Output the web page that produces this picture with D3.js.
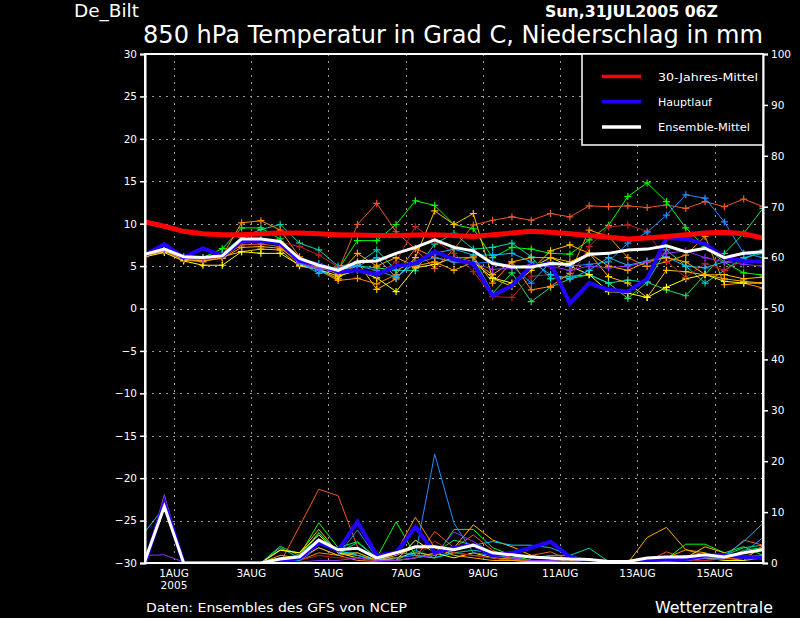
<!DOCTYPE html>
<html><head><meta charset="utf-8">
<script src="https://cdn.jsdelivr.net/npm/d3@7"></script>
<style>body{margin:0;background:#000}svg{display:block;background:#000}</style>
</head><body><svg id="c" width="800" height="618"></svg>
<script>
// ---- DATA ----
// time steps: hours after 31JUL2005 06Z, every 12 h
const hours = d3.range(0, 385, 12);
const xTickHours = [18, 66, 114, 162, 210, 258, 306, 354];
const xTickLabels = ["1AUG", "3AUG", "5AUG", "7AUG", "9AUG", "11AUG", "13AUG", "15AUG"];
const yearLabel = "2005";
const tempTicks = d3.range(-30, 31, 5);
const precTicks = d3.range(0, 101, 10);

const climateMean = [10.2, 9.7, 9.1, 8.8, 8.7, 8.7, 8.8, 8.9, 8.9, 8.8, 8.7, 8.65, 8.6, 8.6, 8.65, 8.7, 8.6, 8.5, 8.7, 8.9, 9.1, 9.0, 8.8, 8.6, 8.4, 8.2, 8.3, 8.5, 8.7, 8.9, 9.0, 8.8, 8.3];
const mainRunTemp = [6.3, 7.6, 6.0, 7.1, 6.2, 8.0, 8.0, 7.7, 5.6, 5.2, 4.3, 4.5, 4.0, 5.0, 5.3, 6.7, 5.8, 5.3, 1.5, 2.7, 5.0, 5.3, 0.6, 3.0, 2.2, 2.0, 3.5, 8.3, 8.2, 7.6, 6.0, 5.6, 5.5];
const ensMeanTemp = [6.4, 7.0, 6.1, 6.0, 6.2, 8.2, 8.2, 7.9, 5.9, 5.1, 4.5, 5.5, 5.6, 6.5, 7.2, 8.1, 7.2, 6.8, 5.3, 4.9, 4.9, 5.3, 5.2, 6.4, 6.5, 6.9, 7.0, 7.4, 6.7, 7.1, 6.0, 6.5, 6.7];
const mainRunPrec = [0, 12.0, 0, 0, 0, 0, 0, 0.3, 1.0, 4.0, 2.5, 8.1, 1.5, 2.0, 7.1, 2.0, 3.0, 3.5, 1.5, 2.0, 3.0, 4.2, 1.2, 0.3, 0.2, 0.2, 0.5, 0.8, 0.8, 1.5, 1.5, 1.2, 1.0];
const ensMeanPrec = [0.5, 11.1, 0, 0, 0, 0, 0, 0.8, 1.2, 4.5, 2.6, 2.9, 1.0, 2.0, 3.2, 3.2, 2.6, 3.5, 2.0, 1.6, 1.2, 1.0, 0.8, 0.7, 0.3, 0.3, 1.0, 1.2, 1.2, 1.6, 1.2, 2.0, 2.6];

const memberColors = ["#f05828", "#00ff00", "#22dd66", "#00d8a8", "#ff8c00", "#ffc000", "#ffff00", "#c02020", "#1e90ff", "#00c0ff", "#ffa800", "#9030ff"];
const memberTemp = [
  [6.2, 6.7, 5.8, 5.6, 6.0, 7.5, 7.6, 7.3, 5.2, 4.8, 4.4, 9.9, 12.4, 9.05, 7.0, 4.7, 7.0, 9.85, 10.4, 10.8, 10.4, 11.2, 10.8, 12.1, 12.0, 12.1, 11.9, 12.2, 11.8, 12.6, 12.0, 12.9, 12.0],
  [6.3, 7.0, 6.0, 6.0, 7.05, 9.5, 9.5, 8.2, 5.8, 5.3, 4.6, 8.0, 8.0, 9.9, 12.7, 12.15, 9.9, 9.4, 6.0, 7.2, 7.0, 6.5, 6.4, 8.1, 9.8, 13.2, 14.8, 12.6, 9.5, 7.3, 5.45, 4.2, 3.95],
  [6.2, 6.8, 5.9, 5.8, 6.3, 8.0, 8.1, 7.8, 5.6, 5.0, 4.2, 5.0, 4.8, 4.5, 5.5, 6.5, 6.0, 6.0, 1.8, 4.2, 0.8, 2.5, 3.5, 4.0, 3.0, 1.2, 3.1, 2.2, 1.5, 4.0, 6.5, 8.85, 11.8],
  [6.4, 6.9, 6.0, 5.9, 6.5, 8.4, 9.3, 9.9, 7.7, 6.9, 5.0, 5.3, 6.9, 4.5, 4.45, 7.6, 8.85, 7.0, 7.2, 7.7, 6.1, 3.5, 3.8, 3.95, 3.0, 3.35, 3.1, 6.9, 5.0, 3.0, 4.5, 6.0, 6.5],
  [6.2, 6.9, 5.7, 5.5, 6.2, 10.1, 10.35, 9.25, 6.1, 4.5, 3.3, 3.55, 2.9, 4.0, 7.1, 6.0, 5.5, 6.1, 3.0, 5.5, 2.2, 2.6, 4.15, 9.25, 8.5, 6.0, 4.95, 5.5, 6.3, 8.5, 2.8, 3.0, 2.4],
  [6.3, 6.8, 5.9, 5.8, 6.1, 6.7, 7.0, 6.9, 5.0, 4.6, 3.5, 5.5, 2.25, 3.5, 6.0, 11.5, 9.9, 11.2, 3.55, 2.6, 4.5, 6.8, 7.5, 6.5, 3.75, 3.0, 1.3, 4.5, 4.35, 3.95, 4.0, 3.5, 3.7],
  [6.1, 6.6, 5.6, 5.1, 5.1, 6.7, 6.5, 6.5, 5.1, 4.6, 3.8, 4.5, 3.6, 2.0, 4.8, 5.2, 6.0, 5.5, 3.6, 3.0, 4.8, 6.0, 5.0, 4.0, 2.0, 1.8, 1.3, 2.5, 3.5, 4.0, 3.2, 3.0, 3.0],
  [6.2, 6.8, 5.8, 5.7, 6.1, 7.8, 7.9, 7.8, 7.3, 6.3, 4.9, 4.5, 3.95, 5.5, 9.65, 8.0, 6.5, 4.35, 1.4, 1.3, 3.8, 4.0, 3.55, 7.3, 9.6, 9.85, 9.1, 5.6, 3.65, 5.3, 4.5, 5.7, 5.5],
  [6.3, 6.9, 6.0, 5.9, 6.2, 7.9, 8.0, 7.7, 5.3, 4.5, 4.8, 5.0, 4.5, 3.7, 5.3, 6.0, 5.5, 5.3, 5.5, 5.0, 3.0, 5.5, 5.0, 5.2, 5.5, 7.7, 9.0, 11.0, 13.4, 13.0, 10.2, 6.5, 6.0],
  [6.4, 7.0, 6.1, 6.0, 6.3, 8.0, 8.1, 7.9, 5.4, 4.15, 4.5, 5.0, 6.0, 3.7, 5.5, 6.5, 7.0, 6.3, 6.3, 6.5, 5.5, 4.0, 3.5, 4.5, 6.0, 5.1, 5.6, 6.1, 5.0, 4.8, 5.5, 5.8, 6.9],
  [6.2, 6.8, 5.8, 5.6, 5.9, 7.2, 7.3, 7.1, 5.5, 5.0, 4.0, 6.5, 5.0, 6.0, 5.0, 5.5, 4.5, 5.5, 4.0, 5.5, 6.0, 6.0, 5.5, 6.5, 5.0, 4.5, 5.5, 6.0, 5.5, 4.0, 3.5, 3.2, 3.0],
  [6.3, 6.9, 5.9, 5.8, 6.2, 7.8, 7.9, 7.6, 5.4, 4.7, 4.3, 4.6, 4.2, 5.0, 5.5, 6.5, 5.9, 5.4, 4.6, 4.8, 5.2, 5.0, 4.5, 5.0, 4.8, 5.0, 5.5, 6.5, 6.8, 6.0, 5.5, 5.2, 5.0]
];
const memberPrec = [
  [0, 13.4, 0, 0, 0, 0, 0, 0, 7.2, 14.5, 13.2, 3.2, 0.5, 0.5, 1.0, 6.2, 3.0, 5.5, 2.5, 1.0, 1.5, 2.2, 0.5, 0.2, 0, 0, 0.3, 2.2, 0.8, 0.5, 1.0, 4.5, 3.5],
  [0.5, 12.0, 0, 0, 0, 0, 0, 1.0, 1.5, 7.9, 3.0, 4.2, 1.0, 8.1, 1.5, 1.0, 6.6, 6.6, 3.0, 1.5, 0.5, 0.5, 0.3, 0, 0, 0, 0.5, 0.8, 3.7, 3.7, 2.0, 3.2, 1.5],
  [0, 11.5, 0, 0, 0, 0, 0, 3.3, 1.5, 6.0, 2.0, 2.0, 0.5, 0.5, 1.0, 2.0, 4.5, 3.5, 1.5, 1.0, 0.5, 0.3, 0, 0, 0, 0, 0.5, 1.0, 1.5, 1.0, 0.8, 2.5, 3.0],
  [0, 12.5, 0, 0, 0, 0, 0, 3.0, 1.0, 5.9, 2.0, 4.0, 1.0, 0.5, 2.5, 1.0, 2.0, 2.5, 2.0, 1.5, 1.0, 1.5, 1.5, 2.9, 0.3, 0, 0.3, 0.5, 0.8, 1.0, 1.5, 3.0, 3.5],
  [0, 12.8, 0, 0, 0, 0, 0, 1.0, 0.5, 2.0, 1.5, 0.5, 0.3, 2.0, 9.0, 3.0, 2.0, 1.5, 1.0, 0.8, 0.5, 0.3, 0.2, 0, 0, 0, 0.5, 1.0, 2.6, 1.5, 1.0, 0.5, 3.5],
  [0, 12.5, 0, 0, 0, 0, 0, 2.6, 2.0, 6.6, 2.0, 1.5, 0.5, 1.0, 2.0, 1.5, 3.0, 7.5, 4.5, 3.2, 1.5, 0.8, 0.3, 0, 0, 0, 0, 0.5, 1.0, 3.2, 2.0, 1.0, 1.5],
  [0, 12.8, 0, 0, 0, 0, 0, 2.5, 2.0, 5.5, 2.0, 1.0, 0.5, 0.5, 4.5, 2.0, 1.0, 2.0, 1.0, 0.5, 0.3, 0.2, 0, 0, 0, 0, 0.3, 0.5, 0.5, 1.0, 0.5, 0.5, 1.0],
  [0, 12.0, 0, 0, 0, 0, 0, 0.5, 0.5, 1.5, 1.0, 1.0, 0.3, 0.5, 1.0, 4.3, 2.0, 1.5, 1.0, 0.5, 0.5, 0.3, 0.2, 0, 0, 0, 0.3, 0.5, 0.5, 0.5, 0.8, 1.0, 1.0],
  [0, 12.0, 0, 0, 0, 0, 0, 0.5, 0.5, 3.0, 1.5, 6.5, 1.0, 1.0, 1.5, 21.4, 7.8, 2.0, 1.5, 1.0, 0.5, 0.3, 0.2, 0, 0, 0, 0.2, 0.3, 0.5, 1.0, 1.0, 2.0, 5.0],
  [6.1, 11.0, 0, 0, 0, 0, 0, 1.0, 0.5, 4.5, 2.5, 1.5, 0.5, 2.2, 1.5, 1.0, 2.5, 3.5, 4.2, 3.5, 3.5, 3.0, 1.5, 0.5, 0, 0, 0.3, 0.5, 0.5, 1.0, 1.5, 4.2, 7.8],
  [0, 13.0, 0, 0, 0, 0, 0, 1.5, 1.0, 3.0, 1.5, 2.0, 0.5, 1.5, 3.0, 3.0, 1.5, 1.0, 0.5, 0.5, 0.3, 0.2, 0, 0, 0, 0, 5.0, 7.0, 2.6, 2.0, 1.0, 1.0, 3.0],
  [1.5, 1.6, 0.2, 0.3, 0.3, 0, 0, 0, 0.2, 0.5, 0.5, 1.0, 0.5, 0.5, 1.0, 1.5, 6.1, 4.2, 2.0, 1.0, 0.5, 0.5, 0.3, 0.2, 0, 0, 0.3, 0.5, 0.5, 1.0, 1.0, 1.5, 1.5]
];
const legendLabels = ["30-Jahres-Mittel", "Hauptlauf", "Ensemble-Mittel"];
const legendColors = ["#ff0000", "#2200ff", "#ffffff"];

// ---- DRAW ----
const FONT = "DejaVu Sans, Liberation Sans, sans-serif";
const svg = d3.select("#c");
const L = 145, R = 763, T = 54, B = 563;
const x = d3.scaleLinear().domain([0, 384]).range([L, R]);
const yT = d3.scaleLinear().domain([-30, 30]).range([B, T]);
const yP = d3.scaleLinear().domain([0, 100]).range([B, T]);

svg.append("rect").attr("width", 800).attr("height", 618).attr("fill", "#000");

svg.append("defs").append("clipPath").attr("id", "clip")
  .append("rect").attr("x", L).attr("y", T).attr("width", R - L).attr("height", B - T);

// grid
const grid = svg.append("g").attr("stroke", "#9a9a9a").attr("stroke-width", 1).attr("stroke-dasharray", "2,5");
grid.selectAll("line.h").data(tempTicks.filter(v => v > -30 && v < 30)).join("line")
  .attr("x1", L).attr("x2", R).attr("y1", d => Math.round(yT(d)) + 0.5).attr("y2", d => Math.round(yT(d)) + 0.5);
grid.selectAll("line.v").data(xTickHours).join("line")
  .attr("y1", T).attr("y2", B).attr("x1", d => Math.round(x(d)) + 0.5).attr("x2", d => Math.round(x(d)) + 0.5);

const plot = svg.append("g").attr("clip-path", "url(#clip)");
const lineT = d3.line().x((d, i) => x(hours[i])).y(d => yT(d));
const lineP = d3.line().x((d, i) => x(hours[i])).y(d => yP(d));

// members: precipitation
memberPrec.forEach((arr, k) => {
  plot.append("path").datum(arr).attr("d", lineP).attr("fill", "none")
    .attr("stroke", memberColors[k]).attr("stroke-width", 1);
});
// members: temperature with + markers
memberTemp.forEach((arr, k) => {
  plot.append("path").datum(arr).attr("d", lineT).attr("fill", "none")
    .attr("stroke", memberColors[k]).attr("stroke-width", 1);
  plot.append("g").selectAll("path").data(arr).join("path")
    .attr("d", "M-3.5,0H3.5M0,-3.5V3.5")
    .attr("transform", (d, i) => `translate(${x(hours[i])},${yT(d)})`)
    .attr("stroke", memberColors[k]).attr("stroke-width", 1.2);
});

// main run
plot.append("path").datum(mainRunPrec).attr("d", lineP).attr("fill", "none").attr("stroke", "#2200ff").attr("stroke-width", 4);
plot.append("path").datum(mainRunTemp).attr("d", lineT).attr("fill", "none").attr("stroke", "#2200ff").attr("stroke-width", 4);
// climate mean
plot.append("path").datum(climateMean).attr("d", lineT).attr("fill", "none").attr("stroke", "#ff0000").attr("stroke-width", 5);
// ensemble mean
plot.append("path").datum(ensMeanPrec).attr("d", lineP).attr("fill", "none").attr("stroke", "#ffffff").attr("stroke-width", 3);
plot.append("path").datum(ensMeanTemp).attr("d", lineT).attr("fill", "none").attr("stroke", "#ffffff").attr("stroke-width", 3);

// frame
svg.append("rect").attr("x", L).attr("y", T).attr("width", R - L).attr("height", B - T)
  .attr("fill", "none").attr("stroke", "#fff").attr("stroke-width", 2);

// axes
const axL = svg.append("g").attr("transform", `translate(${L},0)`)
  .call(d3.axisLeft(yT).tickValues(tempTicks).tickSize(5).tickPadding(3));
const axR = svg.append("g").attr("transform", `translate(${R},0)`)
  .call(d3.axisRight(yP).tickValues(precTicks).tickSize(5).tickPadding(3));
[axL, axR].forEach(g => {
  g.select(".domain").attr("stroke", "#fff").attr("stroke-width", 2);
  g.selectAll(".tick line").attr("stroke", "#fff").attr("stroke-width", 1.5);
  g.selectAll(".tick text").attr("fill", "#fff").attr("font-family", FONT).attr("font-size", 10.5);
});

// x labels
svg.append("g").selectAll("text").data(xTickHours).join("text")
  .attr("x", d => x(d)).attr("y", 577).attr("text-anchor", "middle")
  .attr("fill", "#fff").attr("font-family", FONT).attr("font-size", 10.5)
  .text((d, i) => xTickLabels[i]);
svg.append("text").attr("x", x(xTickHours[0])).attr("y", 589).attr("text-anchor", "middle")
  .attr("fill", "#fff").attr("font-family", FONT).attr("font-size", 10.5).text(yearLabel);

// legend
const lg = svg.append("g");
lg.append("rect").attr("x", 582).attr("y", T).attr("width", R - 582).attr("height", 91)
  .attr("fill", "#000").attr("stroke", "#fff").attr("stroke-width", 1.5);
const legW = [100, 54, 92];
legendLabels.forEach((lab, i) => {
  const yy = 76.5 + i * 25.3;
  lg.append("line").attr("x1", 602).attr("x2", 641).attr("y1", yy).attr("y2", yy)
    .attr("stroke", legendColors[i]).attr("stroke-width", 3.5);
  lg.append("text").attr("x", 658).attr("y", yy + 4).attr("fill", "#fff")
    .attr("font-family", FONT).attr("font-size", 11)
    .attr("textLength", legW[i]).attr("lengthAdjust", "spacingAndGlyphs").text(lab);
});

// titles
svg.append("text").attr("x", 143).attr("y", 42.5).attr("fill", "#fff").attr("font-family", FONT)
  .attr("font-size", 24).attr("textLength", 620).attr("lengthAdjust", "spacingAndGlyphs")
  .text("850 hPa Temperatur in Grad C, Niederschlag in mm");
svg.append("text").attr("x", 74).attr("y", 17).attr("fill", "#fff").attr("font-family", FONT)
  .attr("font-size", 17.5).attr("textLength", 65).attr("lengthAdjust", "spacingAndGlyphs").text("De_Bilt");
svg.append("text").attr("x", 545).attr("y", 16.5).attr("fill", "#fff").attr("font-family", FONT)
  .attr("font-size", 15.5).attr("font-weight", "bold").attr("textLength", 173).attr("lengthAdjust", "spacingAndGlyphs")
  .text("Sun,31JUL2005 06Z");
svg.append("text").attr("x", 146).attr("y", 611.5).attr("fill", "#fff").attr("font-family", FONT)
  .attr("font-size", 12.5).attr("textLength", 261).attr("lengthAdjust", "spacingAndGlyphs")
  .text("Daten: Ensembles des GFS von NCEP");
svg.append("text").attr("x", 655).attr("y", 612.5).attr("fill", "#fff").attr("font-family", FONT)
  .attr("font-size", 15).attr("textLength", 118).attr("lengthAdjust", "spacingAndGlyphs")
  .text("Wetterzentrale");
</script></body></html>
